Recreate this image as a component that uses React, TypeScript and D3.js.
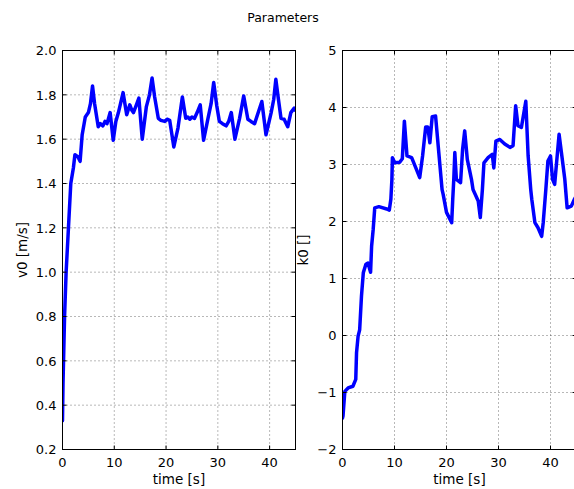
import React from "react";
import * as d3 from "d3";

const titleText = "Parameters";
const xLabel = "time [s]";
const v0Label = "v0 [m/s]";
const k0Label = "k0 []";

const xTicks = [0, 10, 20, 30, 40];
const v0Ticks = [0.2, 0.4, 0.6, 0.8, 1.0, 1.2, 1.4, 1.6, 1.8, 2.0];
const k0Ticks = [-2, -1, 0, 1, 2, 3, 4, 5];

const v0Time = [0, 0.1, 0.25, 0.4, 0.7, 1.15, 1.6, 2.1, 2.4, 3.0, 3.4, 3.8, 4.4, 5.0, 5.4, 5.8, 6.2, 6.9, 7.3, 7.8, 8.2, 8.6, 9.2, 9.8, 10.3, 10.8, 11.7, 12.4, 13.0, 13.4, 13.7, 14.2, 14.75, 15.4, 16.2, 16.8, 17.3, 17.8, 18.5, 19.0, 19.75, 20.2, 20.7, 21.5, 22.3, 23.15, 23.8, 24.2, 24.6, 25.0, 25.5, 26.0, 26.6, 27.25, 28.1, 28.7, 29.2, 29.8, 30.3, 30.9, 31.6, 32.1, 32.6, 33.3, 34.2, 35.0, 35.8, 36.4, 37.1, 37.8, 38.5, 39.3, 40.3, 40.8, 41.2, 41.7, 42.2, 42.8, 43.5, 44.1, 44.75, 45];
const v0Vals = [0.33, 0.5, 0.65, 0.8, 1.0, 1.2, 1.4, 1.47, 1.53, 1.52, 1.5, 1.62, 1.70, 1.72, 1.76, 1.84, 1.76, 1.656, 1.67, 1.66, 1.68, 1.67, 1.72, 1.595, 1.68, 1.72, 1.81, 1.71, 1.755, 1.73, 1.72, 1.75, 1.785, 1.60, 1.747, 1.8, 1.876, 1.79, 1.694, 1.685, 1.68, 1.69, 1.685, 1.565, 1.65, 1.79, 1.694, 1.70, 1.69, 1.70, 1.694, 1.72, 1.755, 1.595, 1.694, 1.76, 1.856, 1.75, 1.68, 1.67, 1.66, 1.68, 1.72, 1.60, 1.694, 1.795, 1.69, 1.68, 1.67, 1.72, 1.77, 1.62, 1.72, 1.78, 1.87, 1.78, 1.694, 1.69, 1.656, 1.72, 1.74, 1.73];

const k0Time = [0, 0.1, 0.45, 1.08, 2.0, 2.55, 2.7, 3.0, 3.3, 3.65, 4.0, 4.5, 4.9, 5.4, 5.6, 5.9, 6.2, 7.0, 8.5, 9.0, 9.3, 9.5, 9.6, 10.05, 11.0, 11.5, 11.9, 12.4, 13.3, 14.1, 14.85, 15.4, 16.0, 16.4, 16.8, 17.25, 17.9, 18.4, 19.15, 19.35, 20.0, 21.0, 21.2, 21.4, 21.6, 21.9, 22.7, 23.1, 23.5, 24.0, 24.8, 25.1, 26.1, 26.5, 26.9, 27.2, 28.0, 28.8, 29.1, 29.5, 30.25, 31.2, 32.2, 32.8, 33.3, 33.75, 34.4, 35.25, 35.7, 36.2, 36.4, 37.0, 37.6, 38.3, 38.6, 39.1, 39.5, 40.0, 40.4, 40.8, 41.65, 42.1, 42.75, 43.2, 44.0, 44.6, 45];
const k0Vals = [-1.45, -1.41, -0.98, -0.92, -0.89, -0.77, -0.30, -0.01, 0.1, 0.69, 1.10, 1.25, 1.27, 1.11, 1.57, 1.86, 2.24, 2.26, 2.22, 2.20, 2.39, 2.74, 3.12, 3.03, 3.04, 3.10, 3.76, 3.15, 3.12, 2.94, 2.77, 3.15, 3.66, 3.66, 3.38, 3.84, 3.85, 3.33, 2.56, 2.48, 2.16, 1.98, 2.39, 2.74, 3.21, 2.74, 2.68, 3.27, 3.59, 3.09, 2.74, 2.56, 2.36, 2.07, 2.56, 3.03, 3.12, 3.18, 2.94, 3.41, 3.44, 3.36, 3.30, 3.33, 4.03, 3.68, 3.65, 4.11, 3.15, 2.56, 2.39, 1.98, 1.89, 1.74, 1.98, 2.56, 3.06, 3.15, 2.74, 2.65, 3.53, 3.21, 2.74, 2.24, 2.27, 2.39, 2.45];

const FONT = "DejaVu Sans, sans-serif";

type PanelProps = {
  id: string;
  left: number;
  right: number;
  top: number;
  bottom: number;
  yDomain: [number, number];
  yTicks: number[];
  fmt: (v: number) => string;
  times: number[];
  vals: number[];
  ylabel: string;
  ylabelX: number;
};

function Panel(p: PanelProps) {
  const x = d3.scaleLinear().domain([0, 45]).range([p.left, p.right]);
  const y = d3.scaleLinear().domain(p.yDomain).range([p.bottom, p.top]);
  const pts = p.times.map((t, i) => [t, p.vals[i]] as [number, number]);
  const line = d3.line<[number, number]>().x((d) => x(d[0])).y((d) => y(d[1]));
  const midY = (p.top + p.bottom) / 2;
  const midX = (p.left + p.right) / 2;
  return (
    <g>
      <defs>
        <clipPath id={p.id}>
          <rect x={p.left} y={p.top} width={p.right - p.left} height={p.bottom - p.top} />
        </clipPath>
      </defs>
      {xTicks.map((t) => (
        <line key={"gx" + t} x1={x(t)} x2={x(t)} y1={p.top} y2={p.bottom} stroke="#000" strokeOpacity={0.7} strokeWidth={0.8} strokeDasharray="1,3" />
      ))}
      {p.yTicks.map((t) => (
        <line key={"gy" + t} x1={p.left} x2={p.right} y1={y(t)} y2={y(t)} stroke="#000" strokeOpacity={0.7} strokeWidth={0.8} strokeDasharray="1,3" />
      ))}
      <path d={line(pts) || ""} fill="none" stroke="#0000ff" strokeWidth={3.5} strokeLinejoin="round" strokeLinecap="round" clipPath={`url(#${p.id})`} />
      {xTicks.map((t) => (
        <g key={"tx" + t}>
          <line x1={x(t)} x2={x(t)} y1={p.bottom} y2={p.bottom - 4} stroke="#000" />
          <line x1={x(t)} x2={x(t)} y1={p.top} y2={p.top + 4} stroke="#000" />
          <text x={x(t)} y={p.bottom + 17} textAnchor="middle" fontFamily={FONT} fontSize={13} fill="#000">{t}</text>
        </g>
      ))}
      {p.yTicks.map((t) => (
        <g key={"ty" + t}>
          <line x1={p.left} x2={p.left + 4} y1={y(t)} y2={y(t)} stroke="#000" />
          <line x1={p.right} x2={p.right - 4} y1={y(t)} y2={y(t)} stroke="#000" />
          <text x={p.left - 6} y={y(t)} dy="0.36em" textAnchor="end" fontFamily={FONT} fontSize={13} fill="#000">{p.fmt(t)}</text>
        </g>
      ))}
      <rect x={p.left} y={p.top} width={p.right - p.left} height={p.bottom - p.top} fill="none" stroke="#000" strokeWidth={1} />
      <text x={midX} y={484} textAnchor="middle" fontFamily={FONT} fontSize={13.5} fill="#000">{xLabel}</text>
      <text transform={`translate(${p.ylabelX},${midY}) rotate(-90)`} textAnchor="middle" fontFamily={FONT} fontSize={13.5} fill="#000">{p.ylabel}</text>
    </g>
  );
}

export default function App() {
  const minus = (v: number) => (v < 0 ? "\u2212" + Math.abs(v) : String(v));
  return (
    <svg width={574} height={489} style={{ position: "absolute", left: 0, top: 0, background: "#fff" }}>
      <rect x={0} y={0} width={574} height={489} fill="#fff" />
      <text x={283} y={22} textAnchor="middle" fontFamily={FONT} fontSize={12.5} fill="#000">{titleText}</text>
      <Panel id="clipL" left={62.5} right={295.5} top={50.5} bottom={449.5} yDomain={[0.2, 2.0]} yTicks={v0Ticks} fmt={(v) => v.toFixed(1)} times={v0Time} vals={v0Vals} ylabel={v0Label} ylabelX={27} />
      <Panel id="clipR" left={342.5} right={576.5} top={50.5} bottom={449.5} yDomain={[-2, 5]} yTicks={k0Ticks} fmt={minus} times={k0Time} vals={k0Vals} ylabel={k0Label} ylabelX={308} />
    </svg>
  );
}
